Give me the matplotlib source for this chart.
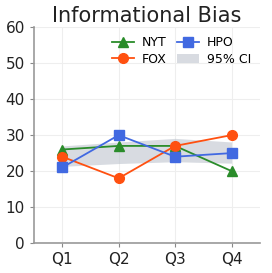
import matplotlib
matplotlib.use("Agg")
import matplotlib.pyplot as plt

quarters = ["Q1", "Q2", "Q3", "Q4"]
nyt = [26, 27, 27, 20]
fox = [24, 18, 27, 30]
hpo = [21, 30, 24, 25]
ci_low = [21.3, 22.1, 22.6, 22.2]
ci_high = [27.0, 28.1, 29.1, 28.1]
yticks = [0, 10, 20, 30, 40, 50, 60]

fig = plt.figure(figsize=(2.72, 2.73), dpi=100)
ax = fig.add_axes([0.125, 0.11, 0.83, 0.79])
x = range(len(quarters))
ax.fill_between(x, ci_low, ci_high, color="#b8bfca", alpha=0.55, lw=0, label="95% CI")
ax.plot(x, nyt, color="#2a8c2a", marker="^", ms=7, lw=1.3, label="NYT")
ax.plot(x, fox, color="#ff5010", marker="o", ms=7, lw=1.3, label="FOX")
ax.plot(x, hpo, color="#4169e1", marker="s", ms=7, lw=1.3, label="HPO")
ax.set_ylim(0, 60)
ax.set_xlim(-0.5, 3.5)
ax.set_yticks(yticks)
ax.set_xticks(list(x))
ax.set_xticklabels(quarters)
ax.tick_params(labelsize=11, colors="#222222", length=3)
ax.tick_params(axis="both", color="#888888")
ax.grid(True, color="#eeeeee", lw=0.8)
ax.set_axisbelow(True)
for s in ["top", "right"]:
    ax.spines[s].set_visible(False)
for s in ["left", "bottom"]:
    ax.spines[s].set_color("#999999")
    ax.spines[s].set_linewidth(1.2)
ax.set_title("Informational Bias", fontsize=15, color="#222222", pad=4)
h, l = ax.get_legend_handles_labels()
order = [1, 2, 3, 0]
ax.legend([h[i] for i in order], [l[i] for i in order], ncol=2, loc="upper right",
          frameon=False, fontsize=9, handlelength=1.8, columnspacing=0.8,
          handletextpad=0.6, borderaxespad=0.3, labelspacing=0.3)
fig.savefig("out.png", dpi=100)
